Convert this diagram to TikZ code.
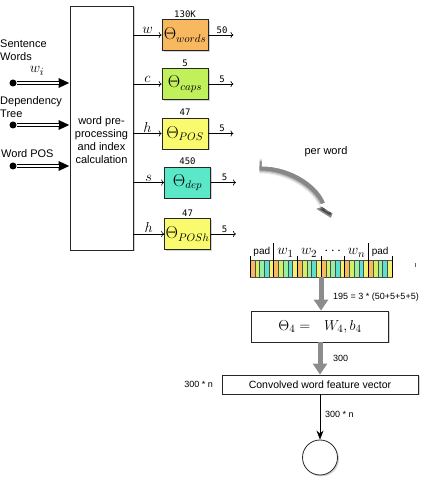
\documentclass[tikz,border=0pt]{standalone}
\usepackage{fontspec}
\setmainfont{Liberation Sans}
\newfontfamily\numfont{DejaVu Sans Mono}
\usetikzlibrary{positioning,shadows,arrows.meta}

\definecolor{cwords}{RGB}{248,184,96}
\definecolor{ccaps}{RGB}{192,240,90}
\definecolor{cpos}{RGB}{250,250,110}
\definecolor{cdep}{RGB}{90,232,200}
\definecolor{cell0}{RGB}{248,184,96}
\definecolor{cell1}{RGB}{206,242,100}
\definecolor{cell2}{RGB}{150,240,160}
\definecolor{cell3}{RGB}{90,226,206}
\definecolor{cell4}{RGB}{246,240,110}

\begin{document}
\begin{tikzpicture}[x=1pt, y=1pt,
    block/.style={draw=black!85, fill=white, line width=0.8pt, align=center,
        drop shadow={shadow xshift=1.5pt, shadow yshift=-1.5pt, opacity=0.35}},
    theta/.style={block, minimum width=46pt, minimum height=31pt, inner sep=0pt, font=\fontsize{16}{18}\selectfont},
    dimlabel/.style={font=\numfont\fontsize{9}{10}\selectfont, inner sep=1.5pt},
    txt/.style={font=\fontsize{11}{13}\selectfont, align=left, inner sep=0pt},
    mathlabel/.style={font=\fontsize{15}{17}\selectfont, inner sep=1pt},
    link/.style={->, line width=0.6pt},
    linklabel/.style={mathlabel, above},
    feed/.style={line width=3.8pt, -{Triangle[length=11pt,width=9pt]}},
    feedcore/.style={white, line width=1.8pt, shorten >=11pt},
    dot/.style={circle, fill=black, inner sep=0pt, minimum size=7pt},
    bigarrow/.style={draw=black!45, line width=5pt, -{Triangle[length=11pt,width=14pt]}},
    bendarrow/.style={line width=9pt, -{Triangle[length=13pt,width=21pt]}}
]
    \useasboundingbox (0,0) rectangle (436,482);

    % Preprocessing block
    \node[block, minimum width=63pt, minimum height=244pt] (prep) at (101.5,354) {};
    \node[txt, align=center] (preptext) at ([yshift=-12pt]prep.center) {word pre-\\processing\\and index\\calculation};

    % Inputs
    \node[dot] (inwords) at (13,399) {};
    \node[dot] (intree) at (13,357) {};
    \node[dot] (inpos) at (13,316) {};
    \foreach \n in {inwords,intree,inpos} {
        \draw[feed] (\n) -- (\n -| prep.west);
        \draw[feedcore] (\n) -- (\n -| prep.west);
    }
    \node[txt, anchor=west] (lwords) at (0,432) {Sentence\\Words};
    \node[mathlabel] (lwi) at (37,411) {$w_i$};
    \node[txt, anchor=west] (ltree) at (0,375) {Dependency\\Tree};
    \node[txt, anchor=west] (lpos) at (1,328) {Word POS};

    % Lookup tables
    \node[theta, fill=cwords] (thwords) at (185,447) {$\Theta_{words}$};
    \node[theta, fill=ccaps] (thcaps) at (185,398) {$\Theta_{caps}$};
    \node[theta, fill=cpos] (thpos) at (185,348.5) {$\Theta_{POS}$};
    \node[theta, fill=cdep] (thdep) at (187.5,299.5) {$\Theta_{dep}$};
    \node[theta, fill=cpos] (thposh) at (187.5,248) {$\Theta_{POSh}$};

    \node[dimlabel, above=0pt of thwords] (nwords) {130K};
    \node[dimlabel, above=0pt of thcaps] (ncaps) {5};
    \node[dimlabel, above=0pt of thpos] (npos) {47};
    \node[dimlabel, above=0pt of thdep] (ndep) {450};
    \node[dimlabel, above=0pt of thposh] (nposh) {47};

    \draw[link] (thwords.west -| prep.east) -- node[linklabel] {$w$} (thwords.west);
    \draw[link] (thcaps.west -| prep.east) -- node[linklabel] {$c$} (thcaps.west);
    \draw[link] (thpos.west -| prep.east) -- node[linklabel] {$h$} (thpos.west);
    \draw[link] (thdep.west -| prep.east) -- node[linklabel] {$s$} (thdep.west);
    \draw[link] (thposh.west -| prep.east) -- node[linklabel] {$h$} (thposh.west);

    \draw[link] (thwords.east) -- ++(25,0) node[dimlabel, pos=0.55, above] {50};
    \draw[link] (thcaps.east) -- ++(25,0) node[dimlabel, pos=0.55, above] {5};
    \draw[link] (thpos.east) -- ++(25,0) node[dimlabel, pos=0.55, above] {5};
    \draw[link] (thdep.east) -- ++(25,0) node[dimlabel, pos=0.55, above] {5};
    \draw[link] (thposh.east) -- ++(25,0) node[dimlabel, pos=0.55, above] {5};

    % per word arrow, soft shadow first
    \foreach \w/\o in {15/0.07, 13/0.1, 11/0.15, 9/0.25} {
        \draw[line width=\w pt, black, opacity=\o, -{Triangle[length=13pt,width=21pt]}] (259.5,316) arc (90:18:75);
    }
    \draw[bendarrow, white] (262,320) arc (90:18:75);
    \node[txt] (lperword) at (326,330) {per word};

    % Window of word features
    \node[minimum width=142pt, minimum height=17pt, inner sep=0pt] (strip) at (321,213.5) {};
    \foreach \i in {0,...,29} {
        \pgfmathtruncatemacro{\k}{mod(\i,5)}
        \draw[fill=cell\k, draw=black!70, line width=0.4pt] ({250+\i*142/30},205) rectangle ++(142/30,17);
    }
    \foreach \j in {0,2,3,4,6}
        \draw[line width=0.7pt] ({250+\j*142/6},205) -- ++(0,21);
    \foreach \j in {1,5}
        \draw[line width=0.7pt] ({250+\j*142/6},205) -- ++(0,34);
    \foreach \j/\lab in {0/pad, 5/pad}
        \node[font=\fontsize{10}{12}\selectfont, anchor=base] (g\j) at ({250+(\j+0.5)*142/6},227) {\lab};
    \foreach \j/\lab in {1/$w_1$, 2/$w_2$, 3/$\cdots$, 4/$w_n$}
        \node[mathlabel, anchor=base] (g\j) at ({250+(\j+0.5)*142/6},227) {\lab};
    \draw[line width=0.8pt, black!60] (415,215) -- (415,219);

    % Convolution
    \node[block, minimum width=137pt, minimum height=31pt, font=\fontsize{15}{17}\selectfont] (th4) at (320,155.5) {$\Theta_4 =\enspace\, W_4, b_4$};
    \node[block, minimum width=196pt, minimum height=19pt, inner sep=0pt, font=\fontsize{10.5}{12}\selectfont] (conv) at (320,97.5) {Convolved word feature vector};
    \node[block, circle, minimum size=35pt] (out) at (320,24.5) {};

    \draw[bigarrow] (strip.south) -- (strip.south |- th4.north);
    \draw[bigarrow] (th4.south) -- (conv.north);
    \draw[line width=0.9pt, -{Stealth[length=9pt,width=7pt]}] (conv.south) -- (out.north);

    \node[txt, anchor=west, font=\fontsize{9}{11}\selectfont] (l195) at (333,185) {195 = 3 * (50+5+5+5)};
    \node[txt, anchor=west, font=\fontsize{9}{11}\selectfont] (l300) at (333,124) {300};
    \node[txt, anchor=west, font=\fontsize{9}{11}\selectfont] (l300n) at (325,68) {300 * n};
    \node[txt, anchor=east, font=\fontsize{9}{11}\selectfont] (l300nleft) at (213,98) {300 * n};

\end{tikzpicture}
\end{document}
